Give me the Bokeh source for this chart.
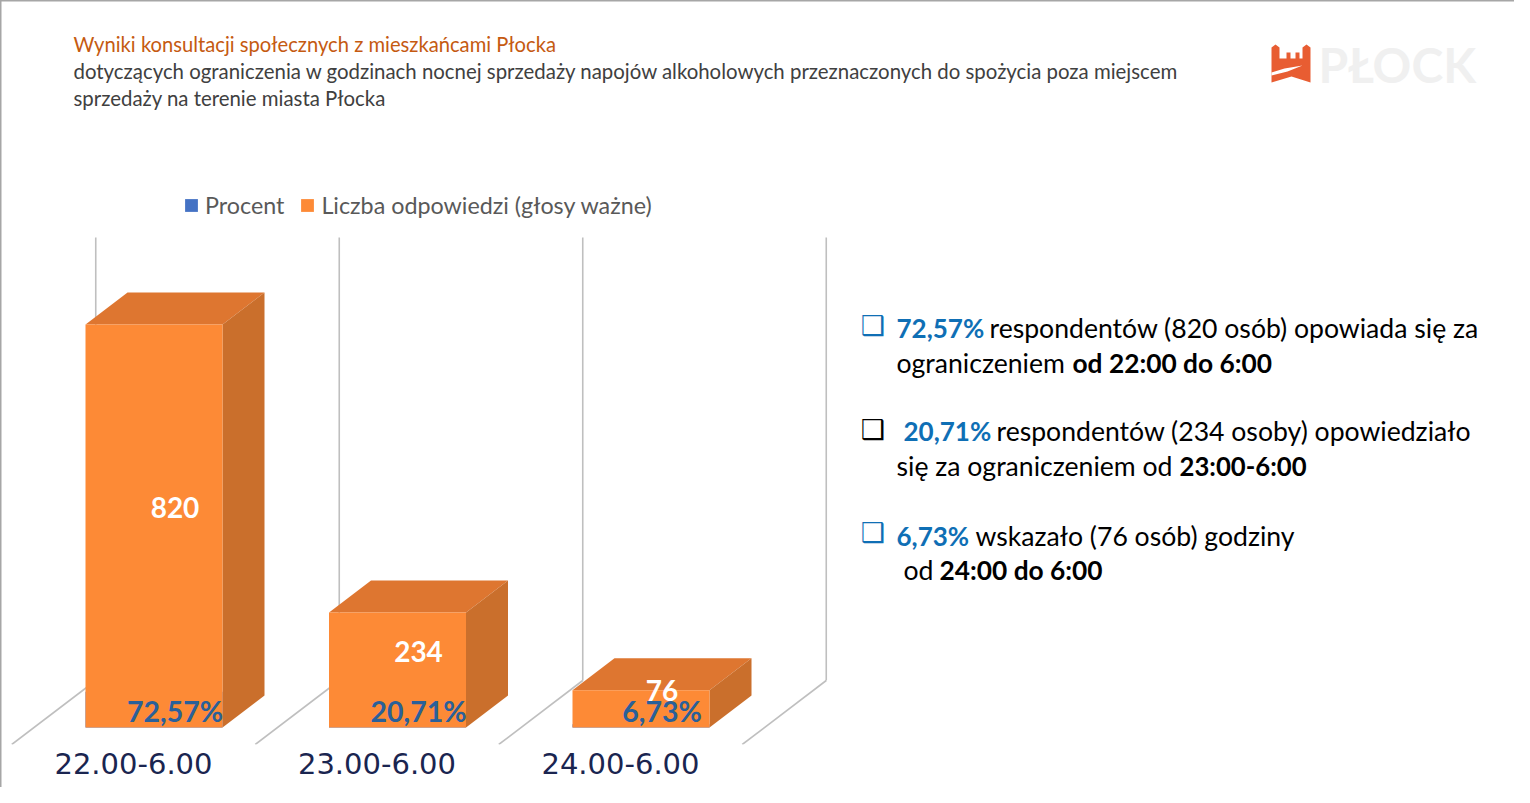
from bokeh.plotting import figure
from bokeh.models import Label, Legend, LegendItem, FixedTicker, Range1d
from bokeh.core.properties import value
from bokeh.embed import file_html
from bokeh.resources import INLINE

categories = ["22.00-6.00", "23.00-6.00", "24.00-6.00"]
liczba = [820, 234, 76]
procent = [72.57, 20.71, 6.73]
procent_labels = ["72,57%", "20,71%", "6,73%"]

W, H = 1514, 787
PAGE_X, PAGE_Y = 1, 0
FRAME_BOTTOM = 744
CAT_X0, CAT_STEP = 134.0, 243.5
BASE_Y, PER_COUNT = 727.0, 0.4915
FONT = "Lato"

def dx(px):
    return px / CAT_STEP
def dy(px):
    return px / PER_COUNT
def X(px):
    return (px - CAT_X0) / CAT_STEP
def Y(py):
    return (BASE_Y - py) / PER_COUNT

p = figure(width=W, height=H, output_backend="svg", toolbar_location=None,
           x_range=Range1d(X(PAGE_X), X(PAGE_X + W)),
           y_range=Range1d(Y(FRAME_BOTTOM), Y(PAGE_Y)),
           min_border_left=0, min_border_right=0, min_border_top=0,
           min_border_bottom=H + PAGE_Y - FRAME_BOTTOM)
p.border_fill_color = None
p.background_fill_color = None
p.styles = {"box-shadow": "inset 1.5px 1.5px 0 #a6a6a6"}
p.outline_line_color = None
p.grid.visible = False
p.yaxis.visible = False
ax = p.xaxis[0]
ax.ticker = FixedTicker(ticks=list(range(len(categories))))
ax.major_label_overrides = {i: c for i, c in enumerate(categories)}
ax.axis_line_color = None
ax.major_tick_line_color = None
ax.minor_tick_line_color = None
ax.major_label_text_font = "DejaVu Sans"
ax.major_label_text_font_size = "29px"
ax.major_label_text_color = "#1a2550"
ax.major_label_standoff = 2

# 3-D chart walls and floor
GRID = "#bfbfbf"
depth_x, depth_y = dx(84), dy(64)
floor_y, wall_top = Y(744), Y(237)
for i in range(len(categories) + 1):
    gx = i - 0.5
    p.line([gx, gx + depth_x], [floor_y, floor_y + depth_y], line_color=GRID, line_width=1.6)
    p.line([gx + depth_x, gx + depth_x], [floor_y + depth_y, wall_top], line_color=GRID, line_width=1.6)

# bars
bar_l, bar_r = dx(-48), dx(89)
side_x, side_y = dx(42), dy(32)
lefts = [i + bar_l for i in range(3)]
rights = [i + bar_r for i in range(3)]
blue = p.quad(left=lefts, right=rights, bottom=[0] * 3, top=procent,
              fill_color="#4472c4", line_color=None)
for l, r, v in zip(lefts, rights, liczba):
    p.patch([l, r, r + side_x, l + side_x], [v, v, v + side_y, v + side_y],
            fill_color="#de7630", line_color=None)
    p.patch([r, r + side_x, r + side_x, r], [0, side_y, v + side_y, v],
            fill_color="#ca6f2c", line_color=None)
orange = p.quad(left=lefts, right=rights, bottom=[0] * 3, top=liczba,
                fill_color="#fd8a36", line_color=None)

# data labels
lab_x = [i + bar_l + (bar_r - bar_l) / 2 + side_x / 2 for i in range(3)]
p.text(lab_x, [v / 2 + side_y / 2 for v in liczba], text=[str(v) for v in liczba],
       y_offset=-2, text_font=value(FONT), text_font_style="bold", text_font_size="28px",
       text_color="#ffffff", text_align="center", text_baseline="middle")
p.text(lab_x, [Y(711)] * 3, text=procent_labels,
       y_offset=-1, text_font=value(FONT), text_font_style="bold", text_font_size="28.5px",
       text_color="#2a6099", text_align="center", text_baseline="middle")

legend = Legend(items=[LegendItem(label="Procent", renderers=[blue]),
                       LegendItem(label="Liczba odpowiedzi (głosy ważne)", renderers=[orange])],
                orientation="horizontal", location=(183, FRAME_BOTTOM - 219),
                border_line_color=None, background_fill_alpha=0, padding=0, margin=0,
                glyph_width=16, glyph_height=16, label_standoff=6, spacing=15,
                label_text_font=FONT, label_text_font_size="23.3px", label_text_color="#595959")
p.add_layout(legend, "center")

def txt(px, py, s, size, color="#000000", bold=False, font=FONT):
    p.add_layout(Label(x=px - PAGE_X, y=FRAME_BOTTOM - (py - 2), x_units="screen", y_units="screen",
                       text=s, text_font=font, text_font_size=f"{size}px", text_color=color,
                       text_font_style="bold" if bold else "normal",
                       text_baseline="middle", text_align="left"))

# heading
txt(74, 45, "Wyniki konsultacji społecznych z mieszkańcami Płocka", 20.2, "#c55a11")
txt(74, 72, "dotyczących ograniczenia w godzinach nocnej sprzedaży napojów alkoholowych przeznaczonych do spożycia poza miejscem", 20.4, "#404040")
txt(74, 99, "sprzedaży na terenie miasta Płocka", 20.4, "#404040")

# logo
txt(1319, 66, "PŁOCK", 48, "#f0f0f0", True)
castle_x = [1272, 1272, 1276, 1280, 1280, 1287, 1287, 1291, 1291, 1296, 1296, 1300, 1300, 1303, 1303, 1307, 1311, 1311, 1292, 1272]
castle_y = [82, 47, 44, 47, 58, 58, 52, 52, 58, 58, 52, 52, 58, 58, 47, 44, 47, 82, 76, 82]
p.patch([X(v) for v in castle_x], [Y(v) for v in castle_y], fill_color="#e85d32", line_color=None)
wave_x = [1272, 1285, 1303, 1288, 1272]
wave_y = [72, 68, 65, 71, 75]
p.patch([X(v) for v in wave_x], [Y(v) for v in wave_y], fill_color="#ffffff", line_color=None)

# commentary
BLUE = "#0f6fb5"
B = 26.6
txt(861, 327, "❑", 27, BLUE, True, "DejaVu Sans")
txt(897, 329, "72,57%", 26, BLUE, True)
txt(990, 329, "respondentów (820 osób) opowiada się za", B)
txt(897, 364, "ograniczeniem", B)
txt(1073, 364, "od 22:00 do 6:00", 26.3, bold=True)
txt(861, 431, "❑", 27, "#000000", True, "DejaVu Sans")
txt(904, 432, "20,71%", 26, BLUE, True)
txt(997, 432, "respondentów (234 osoby) opowiedziało", B)
txt(897, 467, "się za ograniczeniem od", B)
txt(1180, 467, "23:00-6:00", 25.7, bold=True)
txt(861, 534, "❑", 27, BLUE, True, "DejaVu Sans")
txt(897, 537, "6,73%", 26, BLUE, True)
txt(976, 537, "wskazało (76 osób) godziny", B)
txt(904, 571, "od", B)
txt(940, 571, "24:00 do 6:00", 26.3, bold=True)

open("out.html", "w").write(file_html(p, INLINE))
